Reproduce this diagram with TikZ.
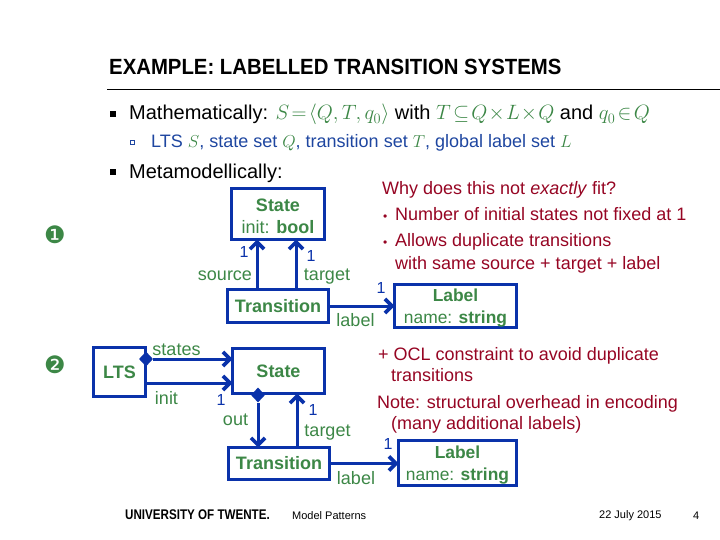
\documentclass[tikz,border=0pt]{standalone}
\usepackage{fontspec}
\usepackage{amsmath}
\setmainfont{Liberation Sans}
\newfontfamily\titlefont[FakeStretch=0.925]{Liberation Sans}
\newfontfamily\univfont[FakeStretch=0.83]{Liberation Sans}
\newfontfamily\symbfont{DejaVu Sans}
\usetikzlibrary{shapes,arrows.meta,positioning}
\definecolor{umlblue}{RGB}{10,50,170}
\definecolor{umlgreen}{RGB}{60,135,70}
\definecolor{notered}{RGB}{150,5,35}
\definecolor{subblue}{RGB}{30,70,160}
\newcommand{\topstrut}{\rule{0pt}{17pt}}
\tikzset{
  classbox/.style={draw=umlblue,line width=3.4pt,fill=white,inner sep=0pt,outer sep=0pt,align=center,
    text=umlgreen,font=\fontsize{18}{22}\selectfont},
  labelbox/.style={classbox,font=\fontsize{17.4}{22}\selectfont},
  assoc/.style={draw=umlblue,line width=3pt,-{Straight Barb[length=7pt,width=14pt,line width=3.6pt]}},
  owner/.style={diamond,fill=umlblue,inner sep=0pt,minimum width=14pt,minimum height=15pt},
  rolelabel/.style={text=umlgreen,inner sep=0pt,font=\fontsize{18}{20}\selectfont},
  multlabel/.style={text=umlblue,inner sep=0pt,font=\fontsize{16}{18}\selectfont},
  notetext/.style={text=notered,inner sep=0pt,anchor=base west,font=\fontsize{18}{20}\selectfont},
  bulletlabel/.style={inner sep=0pt,anchor=base west,font=\fontsize{20}{24}\selectfont},
  footlabel/.style={inner sep=0pt,anchor=west,font=\fontsize{11}{13}\selectfont},
  stepmark/.style={text=umlgreen,inner sep=0pt,font=\symbfont\fontsize{24}{26}\selectfont}
}
\begin{document}
\begin{tikzpicture}[x=1pt,y=-1pt]
\useasboundingbox (0,0) rectangle (720,540);
% title and bullets
\node[inner sep=0pt,anchor=base west,font=\titlefont\bfseries\fontsize{22}{24}\selectfont] (title) at (109,75) {EXAMPLE: LABELLED TRANSITION SYSTEMS};
\coordinate (ruleleft) at (107,89.5);
\coordinate (ruleright) at (720,89.5);
\draw[line width=1.5pt] (ruleleft) -- (ruleright);
\node[fill,minimum size=6pt,inner sep=0pt] (bulletA) at (113,114) {};
\node[bulletlabel] (math) at (129,120) {\thickmuskip=2mu\medmuskip=1mu Mathematically: \textcolor{umlgreen}{$S=\langle Q,T,q_0\rangle$} with \textcolor{umlgreen}{$T\subseteq Q\times L\times Q$} and \textcolor{umlgreen}{$q_0\in Q$}};
\node[draw=subblue,line width=.6pt,minimum size=4pt,inner sep=0pt] (bulletB) at (132,142) {};
\node[bulletlabel,text=subblue,font=\fontsize{18}{20}\selectfont] (sets) at (151,148) {LTS \textcolor{umlgreen}{$S$}, state set \textcolor{umlgreen}{$Q$}, transition set \textcolor{umlgreen}{$T$}, global label set \textcolor{umlgreen}{$L$}};
\node[fill,minimum size=6pt,inner sep=0pt] (bulletC) at (113,172) {};
\node[bulletlabel] (meta) at (129,178.5) {Metamodellically:};
\node[stepmark] (one) at (55,235) {❶};
\node[stepmark] (two) at (55,365) {❷};

% first metamodel
\node[classbox,minimum width=93pt,minimum height=51pt] (stateA) at (278,214) {\topstrut\textbf{State}\\init: \textbf{bool}};
\node[classbox,minimum width=101pt,minimum height=33pt] (transA) at (278,306) {\textbf{Transition}};
\node[labelbox,minimum width=122pt,minimum height=43pt] (labelA) at (455.5,306) {\topstrut\textbf{Label}\\name: \textbf{string}};
\draw[assoc] ([xshift=-21pt]transA.north) -- ([xshift=-21pt]stateA.south);
\draw[assoc] ([xshift=18pt]transA.north) -- ([xshift=18pt]stateA.south);
\draw[assoc] (transA) -- (labelA);
\node[rolelabel] (sourceA) at (225,276) {source};
\node[rolelabel] (targetA) at (327,276.5) {target};
\node[rolelabel] (roleA) at (355.5,320) {label};
\node[multlabel] (multA) at (244,252) {1};
\node[multlabel] (multB) at (311,256) {1};
\node[multlabel] (multC) at (381,288) {1};

% second metamodel
\node[classbox,minimum width=52pt,minimum height=49pt] (lts) at (119.5,372) {\textbf{LTS}};
\node[classbox,minimum width=92pt,minimum height=45pt] (stateB) at (278.5,371) {\textbf{State}};
\node[classbox,minimum width=101pt,minimum height=32pt] (transB) at (279,463.5) {\textbf{Transition}};
\node[labelbox,minimum width=118pt,minimum height=45pt] (labelB) at (457.5,463) {\topstrut\textbf{Label}\\name: \textbf{string}};
\node[owner] (hasstates) at (146,359) {};
\node[owner] (hasout) at (258,395) {};
\draw[assoc] (hasstates) -- (hasstates -| stateB.west);
\draw[assoc] ([yshift=-11pt]lts.east) -- ([yshift=-11pt]lts.east -| stateB.west);
\draw[assoc] (hasout) -- (hasout |- transB.north);
\draw[assoc] ([xshift=18pt]transB.north) -- ([xshift=18pt]transB.north |- stateB.south);
\draw[assoc] (transB) -- (transB -| labelB.west);
\node[rolelabel] (statesrole) at (176.5,350) {states};
\node[rolelabel] (initrole) at (166.5,398) {init};
\node[rolelabel] (outrole) at (235.5,420) {out};
\node[rolelabel] (targetB) at (327.5,433) {target};
\node[rolelabel] (roleB) at (356,478) {label};
\node[multlabel] (multD) at (221,400) {1};
\node[multlabel] (multE) at (313,410) {1};
\node[multlabel] (multF) at (388,444) {1};

% notes
\node[notetext] (whyfit) at (382,195) {Why does this not \textit{exactly} fit?};
\node[notetext,font=\fontsize{12}{14}\selectfont] (dotA) at (383,221) {•};
\node[notetext] (noteA) at (395,221) {Number of initial states not fixed at 1};
\node[notetext,font=\fontsize{12}{14}\selectfont] (dotB) at (383,247) {•};
\node[notetext] (noteB) at (395,247) {Allows duplicate transitions};
\node[notetext] (noteC) at (395,269) {with same source + target + label};
\node[notetext] (ocl) at (378,360) {+ OCL constraint to avoid duplicate};
\node[notetext] (oclB) at (391,381) {transitions};
\node[notetext] (note) at (377,408) {Note: structural overhead in encoding};
\node[notetext] (noteD) at (391,429) {(many additional labels)};

% footer
\node[footlabel,font=\univfont\bfseries\fontsize{14}{16}\selectfont] (univ) at (125,515) {UNIVERSITY OF TWENTE.};
\node[footlabel] (patterns) at (292,516) {Model Patterns};
\node[footlabel] (date) at (599,516) {22 July 2015};
\node[footlabel] (page) at (693,516) {4};
\end{tikzpicture}
\end{document}
